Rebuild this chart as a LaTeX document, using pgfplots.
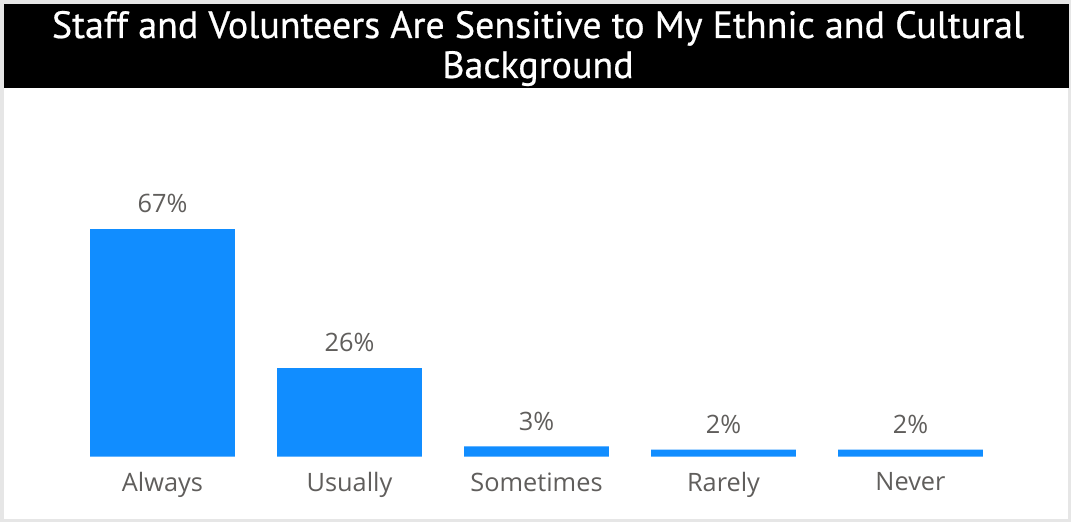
\documentclass[border=0pt]{standalone}
\usepackage{pgfplots}
\pgfplotsset{compat=1.18}
\usepackage{fontspec}
\setmainfont{Open Sans}
\newfontfamily\titlefont[FakeBold=0.6]{PT Sans}
\definecolor{barblue}{HTML}{118DFF}
\definecolor{labgray}{HTML}{605E5C}
\definecolor{bordergray}{HTML}{E6E6E6}
\begin{document}
\begin{tikzpicture}[x=0.75pt,y=0.75pt]
\fill[bordergray] (0,0) rectangle (1071,522);
\fill[white] (4,3) rectangle (1068,518);
\fill[black] (4,434) rectangle (1069,518);
\node[text=white,font=\titlefont\fontsize{28.5}{30}\selectfont,align=center,anchor=base] at (538,484)
  {Staff and Volunteers Are Sensitive to My Ethnic and Cultural};
\node[text=white,font=\titlefont\fontsize{28.5}{30}\selectfont,align=center,anchor=base] at (538,444)
  {Background};
\begin{axis}[
  at={(51.75pt,49.125pt)}, anchor=south west,
  scale only axis, width=701.25pt, height=203.7pt,
  xmin=-0.5, xmax=4.5, ymin=0, ymax=80,
  axis line style={draw=none},
  major tick length=0pt,
  ytick=\empty,
  xtick={0,1,2,3,4},
  xticklabels={Always,Usually,Sometimes,Rarely,Never},
  xticklabel style={text=labgray,font=\fontsize{19}{22}\selectfont,yshift=-8.5pt},
  ybar, bar width=0.775,
  /pgf/number format/assume math mode=true,
  nodes near coords={\pgfmathprintnumber{\pgfplotspointmeta}\%},
  every node near coord/.append style={text=labgray,font=\fontsize{19}{22}\selectfont,anchor=south,yshift=8.5pt},
  clip=false,
]
\addplot[fill=barblue,draw=none] coordinates {(0,67) (1,26) (2,3) (3,2) (4,2)};
\end{axis}
\end{tikzpicture}
\end{document}
